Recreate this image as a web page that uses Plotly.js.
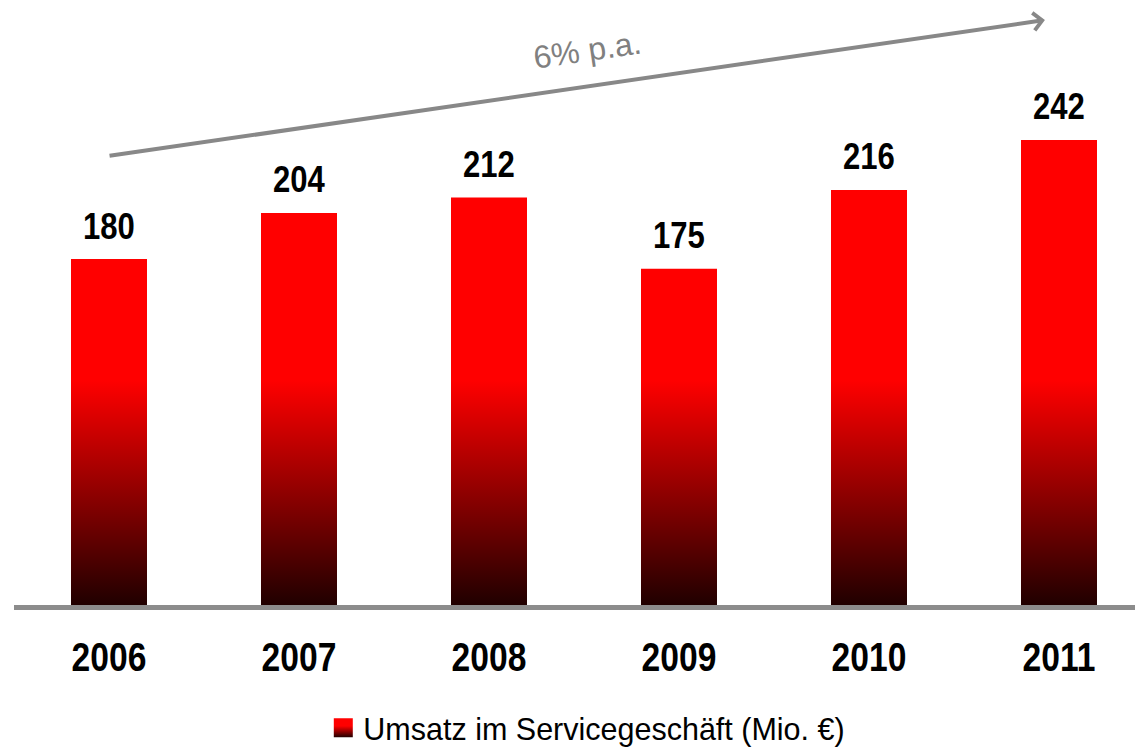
<!DOCTYPE html>
<html>
<head>
<meta charset="utf-8">
<script src="https://cdn.plot.ly/plotly-3.0.1.min.js"></script>
<style>html,body{margin:0;padding:0;background:#fff;}#chart{width:1135px;height:749px;}</style>
</head>
<body>
<div id="chart"></div>
<script>
const years = ['2006', '2007', '2008', '2009', '2010', '2011'];
const umsatz = [180, 204, 212, 175, 216, 242];
const seriesName = 'Umsatz im Servicegeschäft (Mio. €)';
const growthLabel = '6% p.a.';

const boldFont = 'Liberation Sans Narrow, Liberation Sans, Arial, sans-serif';
const regular = 'Liberation Sans, Arial, sans-serif';

const trace = {
  type: 'bar',
  x: years,
  y: umsatz,
  name: seriesName,
  width: 0.4,
  marker: {color: '#ff0000', line: {width: 0}},
  showlegend: true,
  hoverinfo: 'x+y'
};

const valueLabels = years.map((yr, i) => ({
  x: i, y: umsatz[i], xref: 'x', yref: 'y',
  text: String(umsatz[i]), showarrow: false,
  yanchor: 'middle', yshift: 33,
  font: {family: boldFont, size: 37, color: '#000', weight: 'bold'}
}));

const layout = {
  width: 1135, height: 749,
  margin: {l: 14, r: 0, t: 0, b: 144},
  paper_bgcolor: '#fff', plot_bgcolor: '#fff',
  xaxis: {
    type: 'category', range: [-0.5, 5.4],
    showline: true, linecolor: '#8c8c8c', linewidth: 5,
    showgrid: false, zeroline: false, ticks: '',
    tickfont: {family: boldFont, size: 41, color: '#000', weight: 'bold'},
    ticklabelstandoff: 12
  },
  yaxis: {
    range: [0, 314.8], visible: false, showgrid: false, zeroline: false
  },
  showlegend: true,
  legend: {
    orientation: 'h', xref: 'container', yref: 'container',
    x: 0.517, xanchor: 'center', y: 0.028, yanchor: 'middle',
    font: {family: regular, size: 30.5, color: '#000'},
    bgcolor: 'rgba(0,0,0,0)'
  },
  annotations: valueLabels.concat([
    {
      x: 4.926, y: 304.4, xref: 'x', yref: 'y',
      ax: -0.005, ay: 233.6, axref: 'x', ayref: 'y',
      showarrow: true, arrowhead: 4, arrowsize: 0.85, arrowwidth: 4,
      arrowcolor: '#888888', text: ''
    },
    {
      x: 2.52, y: 289, xref: 'x', yref: 'y',
      text: growthLabel, showarrow: false, textangle: -8.3,
      font: {family: regular, size: 32, color: '#808080'}
    }
  ])
};

function squeeze(el, sx) {
  const bb = el.getBBox();
  const cx = bb.x + bb.width / 2;
  const prev = el.getAttribute('transform') || '';
  el.setAttribute('transform', prev + ' translate(' + cx + ',0) scale(' + sx + ',1) translate(' + (-cx) + ',0)');
}

function applyGradients(gd) {
  const svg = gd.querySelector('svg.main-svg');
  let defs = svg.querySelector('defs');
  const ns = 'http://www.w3.org/2000/svg';
  const ya = gd._fullLayout.yaxis;
  const yTop = ya.l2p(117), yBot = ya.l2p(0);
  function makeGrad(id, units, y1, y2, stops) {
    const g = document.createElementNS(ns, 'linearGradient');
    g.setAttribute('id', id);
    g.setAttribute('gradientUnits', units);
    g.setAttribute('x1', 0); g.setAttribute('x2', 0);
    g.setAttribute('y1', y1); g.setAttribute('y2', y2);
    stops.forEach(s => {
      const st = document.createElementNS(ns, 'stop');
      st.setAttribute('offset', s[0]);
      st.setAttribute('stop-color', s[1]);
      g.appendChild(st);
    });
    defs.appendChild(g);
  }
  makeGrad('barGrad', 'userSpaceOnUse', yTop, yBot, [[0, '#ff0000'], [1, '#200000']]);
  makeGrad('legGrad', 'objectBoundingBox', 0, 1, [[0, '#ff0000'], [0.4, '#ff0000'], [1, '#200000']]);
  gd.querySelectorAll('.barlayer .point path').forEach(p => { p.style.fill = 'url(#barGrad)'; });
  gd.querySelectorAll('.legendpoints path').forEach(p => {
    p.setAttribute('d', 'M9.5,9.5H-9.5V-9.5H9.5Z');
    p.style.fill = 'url(#legGrad)';
  });
  // condensed look of the bold labels (Arial Narrow Bold in the original)
  gd.querySelectorAll('.xtick text').forEach(t => squeeze(t, 0.82));
  gd.querySelectorAll('.annotation-text').forEach(t => {
    if (/^\d+$/.test(t.textContent.trim())) squeeze(t, 0.84);
  });
}

Plotly.newPlot('chart', [trace], layout, {displayModeBar: false, staticPlot: true}).then(applyGradients);
</script>
</body>
</html>
